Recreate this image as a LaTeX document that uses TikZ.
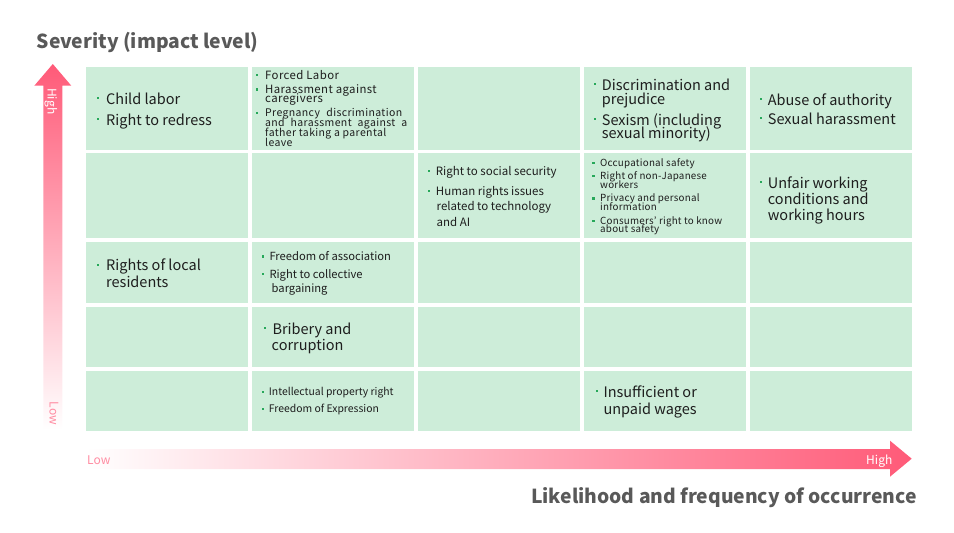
\documentclass[tikz,border=0pt]{standalone}
\usepackage{fontspec}
\setmainfont{Noto Sans CJK JP}
\newfontfamily\spacedfont[LetterSpace=3.5]{Noto Sans CJK JP}
\newfontfamily\tinyspaced[LetterSpace=2.5]{Noto Sans CJK JP}
\definecolor{cellgreen}{HTML}{CDEDD9}
\definecolor{bgreen}{HTML}{27A85A}
\definecolor{apink}{HTML}{FF5A78}
\definecolor{lowpink}{HTML}{FF8CA2}
\definecolor{titlegray}{HTML}{595959}
\definecolor{txt}{HTML}{1E1E1E}
\tikzset{
  cellbox/.style={fill=cellgreen, draw=none, inner sep=0, anchor=north west},
  bigtxt/.style={anchor=base west, inner sep=0, text=txt, font=\fontsize{14.5}{17}\selectfont},
  midtxt/.style={anchor=base west, inner sep=0, text=txt, font=\fontsize{11.5}{14}\selectfont},
  spacedtxt/.style={anchor=base west, inner sep=0, text=txt, font=\spacedfont\fontsize{11.4}{14}\selectfont},
  smalltxt/.style={anchor=base west, inner sep=0, text=txt, font=\spacedfont\fontsize{10.5}{12}\selectfont},
  tinytxt/.style={anchor=base west, inner sep=0, text=txt, font=\tinyspaced\fontsize{9.8}{11}\selectfont},
  dotbox/.style={fill=bgreen, draw=none, rectangle, inner sep=0, minimum size=2.3pt},
  titletxt/.style={inner sep=0, text=titlegray, font=\fontsize{19.3}{23}\selectfont\bfseries},
}
\begin{document}
\begin{tikzpicture}[x=1pt,y=-1pt]
\useasboundingbox (0,0) rectangle (954,533);
% grid cells
\foreach \c/\cx in {1/85.3,2/251.3,3/417.3,4/583.3,5/749.3}{
  \foreach \r/\ry/\rh in {1/66.5/83,2/153/85,3/242/60.5,4/306.5/60.5,5/370.7/60}{
    \node[cellbox, minimum width=162.4pt, minimum height=\rh pt] (cell\r\c) at (\cx,\ry) {};
  }
}
% titles
\node[titletxt, anchor=base west] (ytitle) at (36.5,48.3) {Severity (impact level)};
\node[titletxt, anchor=base east] (xtitle) at (917,503) {Likelihood and frequency of occurrence};
% vertical arrow
\shade[top color=apink, bottom color=white]
  (43.3,430) -- (43.3,85.7) -- (34.3,85.7) -- (52.8,64) -- (71.3,85.7) -- (62.3,85.7) -- (62.3,430) -- cycle;
\node[inner sep=0, text=white, font=\fontsize{12}{14}\selectfont, rotate=-90, anchor=north west] (vhigh) at (57.5,88) {High};
\node[inner sep=0, text=lowpink, font=\fontsize{12}{14}\selectfont, rotate=-90, anchor=north west] (vlow) at (58.5,401.5) {Low};
% horizontal arrow
\shade[left color=white, right color=apink]
  (86,449) -- (890,449) -- (890,440.7) -- (911.7,458.7) -- (890,476.7) -- (890,469) -- (86,469) -- cycle;
\node[inner sep=0, text=lowpink, font=\fontsize{12}{14}\selectfont, anchor=base west] (hlow) at (87,464) {Low};
\node[inner sep=0, text=white, font=\fontsize{12}{14}\selectfont, anchor=base east] (hhigh) at (892.5,464) {High};

% ---- Row 1 ----
\node[dotbox] (d11a) at (97.7,98.3) {};
\node[bigtxt] (t11a) at (106,104.3) {Child labor};
\node[dotbox] (d11b) at (97.7,119) {};
\node[bigtxt] (t11b) at (106,125) {Right to redress};

\node[dotbox] (d12a) at (257.3,75.3) {};
\node[spacedtxt] (t12a) at (265,79) {Forced Labor};
\node[dotbox] (d12b) at (257.3,89.5) {};
\node[spacedtxt] (t12b) at (265,93.3) {Harassment against};
\node[spacedtxt] (t12c) at (265,102) {caregivers};
\node[dotbox] (d12c) at (257.3,113) {};
\node[smalltxt] (t12d) at (265,116.7) {\makebox[137pt][s]{Pregnancy discrimination}};
\node[smalltxt] (t12e) at (265,126.7) {\makebox[142pt][s]{and harassment against a}};
\node[smalltxt] (t12f) at (265,136.7) {father taking a parental};
\node[smalltxt] (t12g) at (265,146.5) {leave};

\node[dotbox] (d14a) at (595,84) {};
\node[bigtxt] (t14a) at (601.7,90) {Discrimination and};
\node[bigtxt] (t14b) at (601.7,104.3) {prejudice};
\node[dotbox] (d14b) at (595,119) {};
\node[bigtxt] (t14c) at (601.7,125) {Sexism (including};
\node[bigtxt] (t14d) at (601.7,138.3) {sexual minority)};

\node[dotbox] (d15a) at (761,99) {};
\node[bigtxt] (t15a) at (767.7,105) {Abuse of authority};
\node[dotbox] (d15b) at (761,118) {};
\node[bigtxt] (t15b) at (767.7,124) {Sexual harassment};

% ---- Row 2 ----
\node[dotbox] (d23a) at (429,171) {};
\node[midtxt] (t23a) at (435.7,175) {Right to social security};
\node[dotbox] (d23b) at (429,191) {};
\node[midtxt] (t23b) at (435.7,195) {Human rights issues};
\node[midtxt] (t23c) at (436.5,210.7) {related to technology};
\node[midtxt] (t23d) at (436.5,226.7) {and AI};

\node[dotbox] (d24a) at (593.5,163.3) {};
\node[tinytxt] (t24a) at (600,166.7) {Occupational safety};
\node[dotbox] (d24b) at (593.5,176) {};
\node[tinytxt] (t24b) at (600,179.3) {Right of non-Japanese};
\node[tinytxt] (t24c) at (600,188.3) {workers};
\node[dotbox] (d24c) at (593.5,198.4) {};
\node[tinytxt] (t24d) at (600,201.7) {Privacy and personal};
\node[tinytxt] (t24e) at (600,210.3) {information};
\node[dotbox] (d24d) at (593.5,220.7) {};
\node[tinytxt] (t24f) at (600,224) {Consumers’ right to know};
\node[tinytxt] (t24g) at (600,232.7) {about safety};

\node[dotbox] (d25a) at (761,182.3) {};
\node[bigtxt] (t25a) at (767.7,188.3) {Unfair working};
\node[bigtxt] (t25b) at (767.7,204) {conditions and};
\node[bigtxt] (t25c) at (767.7,220) {working hours};

% ---- Row 3 ----
\node[dotbox] (d31a) at (97.7,264.7) {};
\node[bigtxt] (t31a) at (106,270.7) {Rights of local};
\node[bigtxt] (t31b) at (106,287.3) {residents};

\node[dotbox] (d32a) at (263.3,256.5) {};
\node[midtxt, font=\fontsize{11.2}{13}\selectfont] (t32a) at (269.3,260.7) {Freedom of association};
\node[dotbox] (d32b) at (263.3,274.2) {};
\node[midtxt, font=\fontsize{11.2}{13}\selectfont] (t32b) at (269.3,278.3) {Right to collective};
\node[midtxt, font=\fontsize{11.2}{13}\selectfont] (t32c) at (271.5,292.3) {bargaining};

% ---- Row 4 ----
\node[dotbox] (d42a) at (265,328.3) {};
\node[bigtxt] (t42a) at (272.3,334.3) {Bribery and};
\node[bigtxt] (t42b) at (271.5,350.7) {corruption};

% ---- Row 5 ----
\node[dotbox] (d52a) at (263.3,391.8) {};
\node[midtxt, font=\fontsize{10.4}{12}\selectfont] (t52a) at (268.7,395.7) {Intellectual property right};
\node[dotbox] (d52b) at (263.3,408.8) {};
\node[midtxt, font=\fontsize{10.4}{12}\selectfont] (t52b) at (268.7,412.7) {Freedom of Expression};

\node[dotbox] (d54a) at (596.7,391.3) {};
\node[bigtxt] (t54a) at (603.3,397.3) {Insufficient or};
\node[bigtxt] (t54b) at (603.3,414) {unpaid wages};
\end{tikzpicture}
\end{document}
